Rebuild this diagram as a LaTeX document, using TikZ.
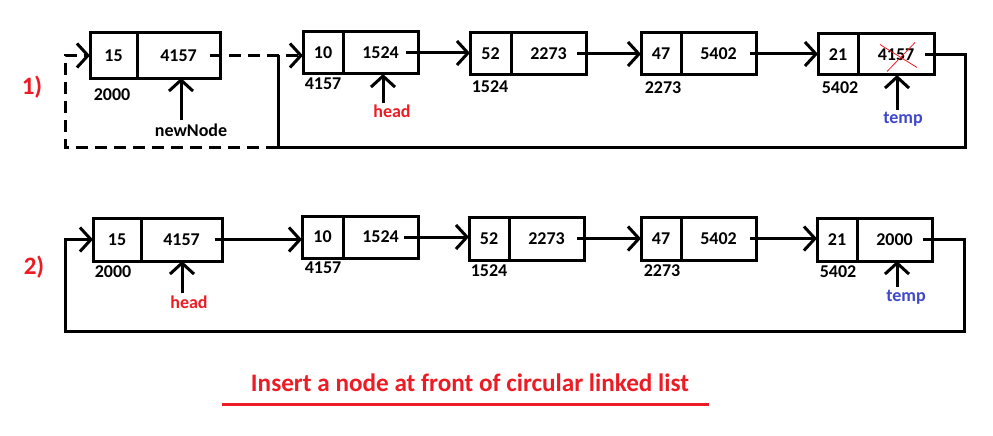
\documentclass[tikz,border=0pt]{standalone}
\usepackage{fontspec}
\setmainfont{Carlito}
\usetikzlibrary{arrows.meta,calc}
\definecolor{paintred}{RGB}{237,28,36}
\definecolor{paintblue}{RGB}{63,72,204}
\newcommand\numfont{\bfseries\fontsize{18}{18}\selectfont}
% one list element: name, x, y (top left), data width, pointer width, height, data, pointer
\newcommand\listelem[8]{%
  \node[cell, minimum width=#4pt, minimum height=#6pt] (#1d) at (#2,#3) {#7};
  \node[cell, minimum width=#5pt, minimum height=#6pt] (#1p) at (#1d.north east) {#8};
}
\begin{document}
\begin{tikzpicture}[x=1pt,y=-1pt,
  cell/.style={draw, line width=3pt, inner sep=0pt, outer sep=0pt, anchor=north west, font=\numfont},
  addr/.style={inner sep=0pt, font=\numfont},
  link/.style={line width=3pt},
  tip/.style={-{Straight Barb[length=11pt,width=24pt]}},
  dashline/.style={dash pattern=on 12pt off 7pt},
  step label/.style={inner sep=0pt, text=paintred, font=\bfseries\fontsize{25}{25}\selectfont},
  redlbl/.style={inner sep=0pt, text=paintred, font=\numfont},
  bluelbl/.style={inner sep=0pt, text=paintblue, font=\numfont}]
\useasboundingbox (0,0) rectangle (993,436);

% ---------- 1) ----------
\node[step label] (s1) at (32,87) {1)};
\listelem{a1}{90}{33}{47}{83}{45}{15}{4157}
\listelem{b1}{303}{32}{40}{75}{42}{10}{1524}
\listelem{c1}{470}{33}{41}{75}{42}{52}{2273}
\listelem{d1}{641}{33}{40}{75}{42}{47}{5402}
\listelem{e1}{818}{34}{40}{76}{41}{21}{4157}

\node[addr] (a1a) at (112,95) {2000};
\node[addr] (b1a) at (323,84) {4157};
\node[addr] (c1a) at (490,87) {1524};
\node[addr] (d1a) at (663,88) {2273};
\node[addr] (e1a) at (840,88) {5402};

% struck-out pointer of the last element
\draw[paintred, line width=0.8pt] ([shift={(-9,17)}]e1p.center) -- ([shift={(19,-12)}]e1p.center);
\draw[paintred, line width=0.8pt] ([shift={(-16,-10)}]e1p.center) -- ([shift={(21,13)}]e1p.center);

\coordinate (a1s) at ([xshift=-10pt]a1p.east);
\coordinate (b1s) at ([xshift=-12pt]b1p.east);
\coordinate (c1s) at ([xshift=-9pt]c1p.east);
\coordinate (d1s) at ([xshift=-6pt]d1p.east);
\coordinate (e1s) at ([xshift=-9pt]e1p.east);
\coordinate (r1) at (965,147);
\coordinate (j1) at (278,147);
\coordinate (l1) at (65,147);

\draw[link,dashline,tip] (a1s) -- (a1s -| b1d.west);
\draw[link,tip] (b1s) -- (b1s -| c1d.west);
\draw[link,tip] (c1s) -- (c1s -| d1d.west);
\draw[link,tip] (d1s) -- (d1s -| e1d.west);
\draw[link] (e1s) -- (e1s -| r1) -- (r1) -- (j1) -- (j1 |- a1s);
\draw[link,dashline,tip] (j1) -- (l1) |- (a1d.west);

\node[addr] (nn) at (191,130) {newNode};
\draw[link,tip] ([xshift=-10pt,yshift=3pt]nn.north) -- ([xshift=-10pt]nn.north |- a1p.south);
\node[redlbl] (h1) at (392,111) {head};
\draw[link,tip] ([xshift=-9pt,yshift=1pt]h1.north) -- ([xshift=-9pt]h1.north |- b1p.south);
\node[bluelbl] (t1) at (903,119) {temp};
\draw[link,tip] ([xshift=-6pt,yshift=2pt]t1.north) -- ([xshift=-6pt]t1.north |- e1p.south);

% ---------- 2) ----------
\node[step label] (s2) at (34,267) {2)};
\listelem{a2}{93}{218}{48}{81}{43}{15}{4157}
\listelem{b2}{302}{216}{41}{75}{42}{10}{1524}
\listelem{c2}{469}{217}{40}{75}{43}{52}{2273}
\listelem{d2}{641}{217}{40}{75}{43}{47}{5402}
\listelem{e2}{817}{218}{40}{75}{43}{21}{2000}

\node[addr] (a2a) at (113,272) {2000};
\node[addr] (b2a) at (323,268) {4157};
\node[addr] (c2a) at (489,271) {1524};
\node[addr] (d2a) at (662,271) {2273};
\node[addr] (e2a) at (838,272) {5402};

\coordinate (a2s) at ([xshift=-7pt]a2p.east);
\coordinate (b2s) at ([xshift=-14pt]b2p.east);
\coordinate (c2s) at ([xshift=-7pt]c2p.east);
\coordinate (d2s) at ([xshift=-6pt]d2p.east);
\coordinate (e2s) at ([xshift=-9pt]e2p.east);
\coordinate (r2) at (964,331);
\coordinate (l2) at (65,331);

\draw[link,tip] (a2s) -- (a2s -| b2d.west);
\draw[link,tip] (b2s) -- (b2s -| c2d.west);
\draw[link,tip] (c2s) -- (c2s -| d2d.west);
\draw[link,tip] (d2s) -- (d2s -| e2d.west);
\draw[link,tip] (e2s) -- (e2s -| r2) -- (r2) -- (l2) |- (a2d.west);

\node[redlbl] (h2) at (189,302) {head};
\draw[link,tip] ([xshift=-7pt,yshift=2pt]h2.north) -- ([xshift=-7pt]h2.north |- a2p.south);
\node[bluelbl] (t2) at (906,297) {temp};
\draw[link,tip] ([xshift=-9pt,yshift=3pt]t2.north) -- ([xshift=-9pt]t2.north |- e2p.south);

% ---------- caption ----------
\node[inner sep=0pt, text=paintred, font=\bfseries\fontsize{25.2}{25.2}\selectfont] (title) at (470,383)
  {Insert a node at front of circular linked list};
\coordinate (ulL) at (222,404);
\coordinate (ulR) at (709,404);
\draw[paintred, line width=3pt] (ulL) -- (ulR);
\end{tikzpicture}
\end{document}
